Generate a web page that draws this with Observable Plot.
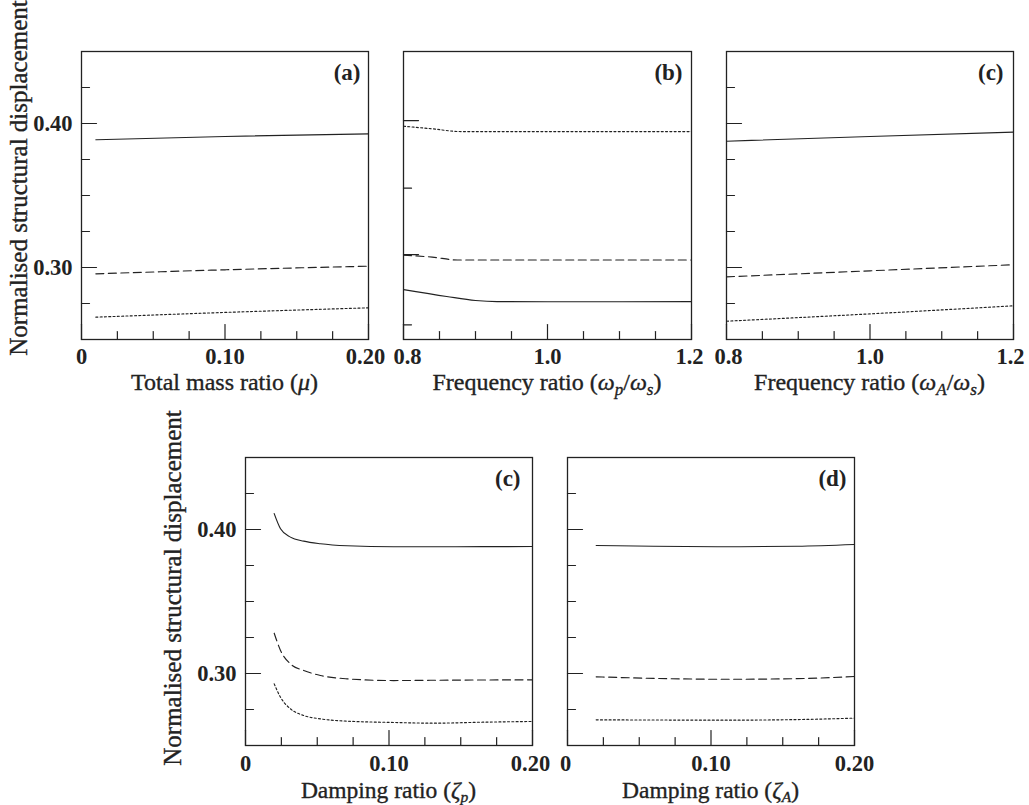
<!DOCTYPE html>
<html><head><meta charset="utf-8">
<script src="https://cdn.jsdelivr.net/npm/d3@7"></script>
<script src="https://cdn.jsdelivr.net/npm/@observablehq/plot@0.6"></script>
<style>
html,body{margin:0;padding:0;background:#fff;overflow:hidden}
#chart{position:relative;width:1029px;height:805px;background:#fff}
#chart svg{position:absolute;left:0}
</style></head><body><div id="chart"></div>
<script>
// ---- axes / ticks ----
const yDomain = [0.25, 0.45];
const yLabelTicks = [0.30, 0.40];
const yMinorTicks = [0.275, 0.325, 0.35, 0.375, 0.425];
const bYMajorTicks = [0.309, 0.402];
const bYMinorTicks = [0.2602, 0.3551];
const ratioDomain = [0, 0.20];
const ratioLabelTicks = [0, 0.10, 0.20];
const ratioMinorTicks = [0.025, 0.05, 0.075, 0.125, 0.15, 0.175];
const freqDomain = [0.8, 1.2];
const freqLabelTicks = [0.8, 1.0, 1.2];
const freqMinorTicks = [0.85, 0.9, 0.95, 1.05, 1.1, 1.15];
const panelLabels = ["(a)", "(b)", "(c)", "(c)", "(d)"];
const yTitle = "Normalised structural displacement";

// ---- (a) total mass ratio ----
const massX = [0.01, 0.10, 0.20];
const massSolid = [0.3887, 0.3910, 0.3928];
const massDashed = [0.2956, 0.2984, 0.3009];
const massDotted = [0.2655, 0.2688, 0.2720];

// ---- (b) frequency ratio wp/ws ----
const fpSolidX = [0.80, 0.86, 0.90, 0.93, 1.00, 1.10, 1.20];
const fpSolid = [0.2847, 0.2799, 0.2771, 0.2763, 0.2762, 0.2762, 0.2763];
const fpDashedX = [0.80, 0.84, 0.875, 1.00, 1.20];
const fpDashed = [0.3085, 0.3072, 0.3052, 0.3052, 0.3052];
const fpDottedX = [0.80, 0.84, 0.88, 1.00, 1.20];
const fpDotted = [0.3981, 0.3963, 0.3944, 0.3944, 0.3944];

// ---- (c) frequency ratio wA/ws ----
const faX = [0.8, 1.0, 1.2];
const faSolid = [0.3877, 0.3910, 0.3940];
const faDashed = [0.2935, 0.2977, 0.3019];
const faDotted = [0.2627, 0.2678, 0.2734];

// ---- (c) damping ratio zeta_p ----
const zpX = [0.02, 0.0244, 0.0313, 0.0406, 0.0522, 0.0708, 0.1033, 0.131, 0.166, 0.20];
const zpSolid = [0.4110, 0.4005, 0.3947, 0.3919, 0.3901, 0.3887, 0.3880, 0.3880, 0.3881, 0.3882];
const zpDashed = [0.3280, 0.3160, 0.3067, 0.3021, 0.2986, 0.2963, 0.2951, 0.2953, 0.2955, 0.2956];
const zpDotted = [0.2928, 0.2835, 0.2755, 0.2708, 0.2685, 0.2669, 0.2660, 0.2655, 0.2662, 0.2667];

// ---- (d) damping ratio zeta_A ----
const zaX = [0.02, 0.06, 0.11, 0.16, 0.20];
const zaSolid = [0.3889, 0.3884, 0.3880, 0.3884, 0.3896];
const zaDashed = [0.2977, 0.2966, 0.2960, 0.2964, 0.2979];
const zaDotted = [0.2678, 0.2677, 0.2676, 0.2680, 0.2690];

// axis titles: [text, flags] (i = italic, s = subscript)
const massTitle = [["Total mass ratio (", ""], ["\u03bc", "i"], [")", ""]];
const fpTitle = [["Frequency ratio (", ""], ["\u03c9", "i"], ["p", "is"], ["/", ""], ["\u03c9", "i"], ["s", "is"], [")", ""]];
const faTitle = [["Frequency ratio (", ""], ["\u03c9", "i"], ["A", "is"], ["/", ""], ["\u03c9", "i"], ["s", "is"], [")", ""]];
const zpTitle = [["Damping ratio (", ""], ["\u03b6", "i"], ["p", "is"], [")", ""]];
const zaTitle = [["Damping ratio (", ""], ["\u03b6", "i"], ["A", "is"], [")", ""]];

const INK = "#222";
const FONT = "Liberation Serif";
const tickShape = {draw(ctx, l) { ctx.moveTo(0, 0); ctx.lineTo(0, -l); }};
const pts = (xs, ys) => xs.map((x, i) => ({x, y: ys[i]}));
const fmtRatio = d => d === 0 ? "0" : d.toFixed(2);
const fmtFreq = d => d.toFixed(1);

function panel(c) {
  const W = 1029;
  const lineStyle = {x: "x", y: "y", stroke: INK, strokeWidth: 1.15, curve: "monotone-x"};
  const xLab = {tickSize: 0, tickPadding: c.xPad, tickFormat: c.fmt, label: null, fill: INK, fontSize: 22.5, fontWeight: "bold"};
  const n = c.xMajor.length;
  const marks = [
    Plot.frame({stroke: INK, strokeWidth: 1.3}),
    Plot.vector(c.xMinor, {x: d => d, frameAnchor: "bottom", anchor: "start", length: 8, shape: tickShape, stroke: INK, strokeWidth: 1.2}),
    Plot.vector(c.xMajor, {x: d => d, frameAnchor: "bottom", anchor: "start", length: 15, shape: tickShape, stroke: INK, strokeWidth: 1.2}),
    Plot.vector(c.yMinor, {y: d => d, frameAnchor: "left", rotate: 90, anchor: "start", length: 8, shape: tickShape, stroke: INK, strokeWidth: 1.2}),
    Plot.vector(c.yMajor, {y: d => d, frameAnchor: "left", rotate: 90, anchor: "start", length: 15, shape: tickShape, stroke: INK, strokeWidth: 1.2}),
    Plot.axisX({...xLab, ticks: c.xMajor.slice(0, 1), dx: c.firstDx}),
    Plot.axisX({...xLab, ticks: c.xMajor.slice(1, n - 1)}),
    Plot.axisX({...xLab, ticks: c.xMajor.slice(n - 1), dx: c.lastDx}),
    Plot.line(c.solid, {...lineStyle}),
    Plot.line(c.dashed, {...lineStyle, strokeDasharray: "8,4.5"}),
    Plot.line(c.dotted, {...lineStyle, strokeDasharray: "2,2.3"}),
    Plot.text([c.tag], {text: d => d, frameAnchor: "top-right", dx: c.tagDx, dy: 12, textAnchor: "end", lineAnchor: "top", fill: INK, fontSize: 23, fontWeight: "bold"})
  ];
  if (c.yLabels) marks.push(Plot.axisY({ticks: yLabelTicks, tickSize: 0, tickPadding: 9, tickFormat: d3.format(".2f"), label: null, fill: INK, fontSize: 22.5, fontWeight: "bold"}));
  const svg = Plot.plot({
    width: W, height: c.H,
    marginLeft: c.L, marginRight: W - c.R, marginTop: c.T, marginBottom: c.H - c.B,
    x: {domain: c.xDomain, axis: null},
    y: {domain: yDomain, axis: null},
    style: {background: "transparent", overflow: "visible", fontFamily: FONT, fontSize: "22px", color: INK},
    marks
  });
  svg.style.top = c.top + "px";
  const s = d3.select(svg);
  // axis title
  const t = s.append("text").attr("x", (c.L + c.R) / 2).attr("y", c.titleY)
    .attr("text-anchor", "middle").attr("font-family", FONT).attr("font-size", c.titleSize)
    .attr("fill", INK).attr("stroke", INK).attr("stroke-width", 0.35);
  let shift = 0;
  for (const [str, flags] of c.title) {
    const ts = t.append("tspan").text(str);
    if (flags.includes("i")) ts.attr("font-style", "italic");
    const target = flags.includes("s") ? c.subDy : 0;
    if (target !== shift) { ts.attr("dy", target - shift); shift = target; }
    if (flags.includes("s")) ts.attr("font-size", c.subSize);
  }
  if (c.yTitleX != null) {
    s.append("text").attr("transform", `translate(${c.yTitleX},${c.yTitleY}) rotate(-90)`)
      .attr("text-anchor", "middle").attr("font-family", FONT).attr("font-size", 25)
      .attr("fill", INK).attr("stroke", INK).attr("stroke-width", 0.35).text(yTitle);
  }
  document.getElementById("chart").appendChild(svg);
}

const topRow = {H: 400, T: 51, B: 339, top: 0, titleY: 390, xPad: 9, titleSize: 24, subDy: 5, subSize: 17};
const botRow = {H: 405, T: 57, B: 345, top: 400, titleY: 398, xPad: 10, titleSize: 23.5, subDy: 3.5, subSize: 15.5};

panel({...topRow, L: 81, R: 368, xDomain: ratioDomain, xMajor: ratioLabelTicks, xMinor: ratioMinorTicks, fmt: fmtRatio,
  firstDx: 0, lastDx: -3,
  yMajor: yLabelTicks, yMinor: yMinorTicks, yLabels: true, yTitleX: 27, yTitleY: 178,
  solid: pts(massX, massSolid), dashed: pts(massX, massDashed), dotted: pts(massX, massDotted),
  tag: panelLabels[0], tagDx: -8, title: massTitle});
panel({...topRow, L: 403, R: 691, xDomain: freqDomain, xMajor: freqLabelTicks, xMinor: freqMinorTicks, fmt: fmtFreq,
  firstDx: 4, lastDx: -2,
  yMajor: bYMajorTicks, yMinor: bYMinorTicks, yLabels: false,
  solid: pts(fpSolidX, fpSolid), dashed: pts(fpDashedX, fpDashed), dotted: pts(fpDottedX, fpDotted),
  tag: panelLabels[1], tagDx: -9, title: fpTitle});
panel({...topRow, L: 726, R: 1013, xDomain: freqDomain, xMajor: freqLabelTicks, xMinor: freqMinorTicks, fmt: fmtFreq,
  firstDx: 2, lastDx: -3,
  yMajor: yLabelTicks, yMinor: yMinorTicks, yLabels: false,
  solid: pts(faX, faSolid), dashed: pts(faX, faDashed), dotted: pts(faX, faDotted),
  tag: panelLabels[2], tagDx: -10, title: faTitle});
panel({...botRow, L: 245, R: 532, xDomain: ratioDomain, xMajor: ratioLabelTicks, xMinor: ratioMinorTicks, fmt: fmtRatio,
  firstDx: 0, lastDx: -2,
  yMajor: yLabelTicks, yMinor: yMinorTicks, yLabels: true, yTitleX: 181, yTitleY: 188,
  solid: pts(zpX, zpSolid), dashed: pts(zpX, zpDashed), dotted: pts(zpX, zpDotted),
  tag: panelLabels[3], tagDx: -12, title: zpTitle});
panel({...botRow, L: 567, R: 854, xDomain: ratioDomain, xMajor: ratioLabelTicks, xMinor: ratioMinorTicks, fmt: fmtRatio,
  firstDx: -2, lastDx: 0,
  yMajor: yLabelTicks, yMinor: yMinorTicks, yLabels: false,
  solid: pts(zaX, zaSolid), dashed: pts(zaX, zaDashed), dotted: pts(zaX, zaDotted),
  tag: panelLabels[4], tagDx: -8, title: zaTitle});
</script></body></html>
